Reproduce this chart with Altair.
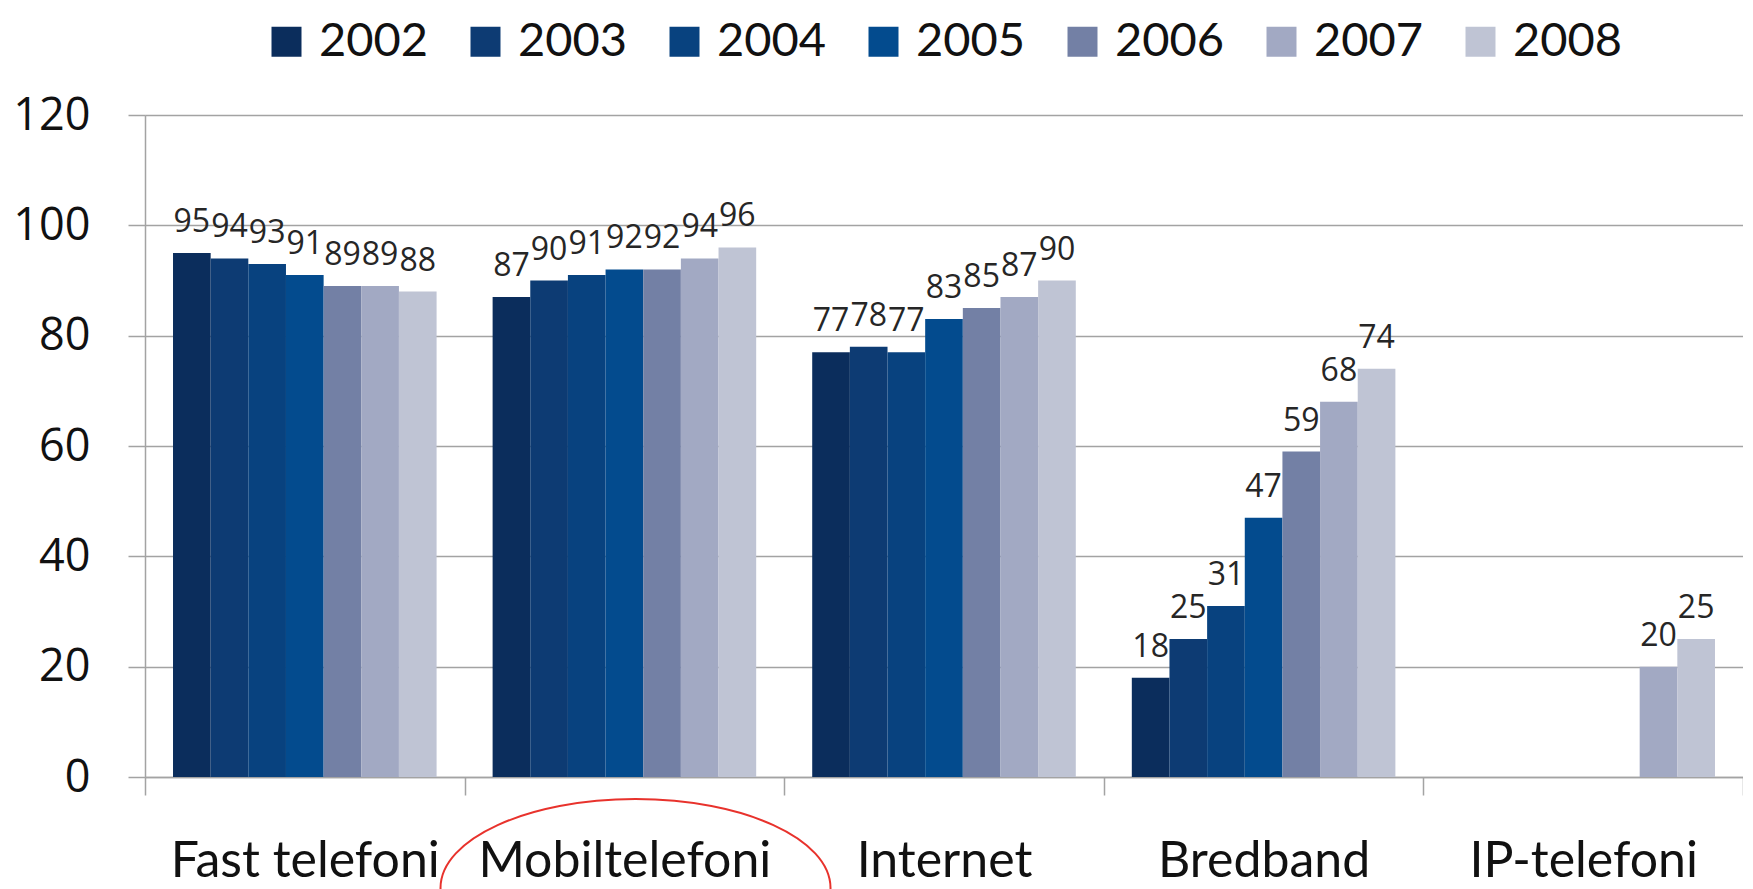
import altair as alt
import pandas as pd

categories = ["Fast telefoni", "Mobiltelefoni", "Internet", "Bredband", "IP-telefoni"]
years = ["2002", "2003", "2004", "2005", "2006", "2007", "2008"]
fast_telefoni = [95, 94, 93, 91, 89, 89, 88]
mobiltelefoni = [87, 90, 91, 92, 92, 94, 96]
internet = [77, 78, 77, 83, 85, 87, 90]
bredband = [18, 25, 31, 47, 59, 68, 74]
ip_telefoni = [None, None, None, None, None, 20, 25]
y_ticks = [0, 20, 40, 60, 80, 100, 120]
colors = ["#0b2d5c", "#0d3b73", "#08427f", "#034b8e", "#7380a5", "#a2a9c3", "#bfc4d4"]
highlight = ["Mobiltelefoni"]

rows = []
for cat, vals in zip(categories, [fast_telefoni, mobiltelefoni, internet, bredband, ip_telefoni]):
    for yr, v in zip(years, vals):
        if v is not None:
            rows.append({"cat": cat, "year": yr, "value": v})
df = pd.DataFrame(rows)

FONT = "Open Sans"
EDGE_FONT = "Lato"
GRID = "#a3a3a3"

x_enc = alt.X(
    "cat:N",
    sort=categories,
    scale=alt.Scale(domain=categories, paddingInner=0, paddingOuter=0),
    axis=alt.Axis(
        title=None, tickBand="extent", labelAngle=0, labelFontSize=50, labelFont=EDGE_FONT,
        labelColor="#111111", tickSize=18, tickColor=GRID, tickWidth=1.5,
        domainColor=GRID, domainWidth=1.5, labelPadding=81, labelBaseline="alphabetic",
        labelLimit=0, grid=False,
    ),
)
y_enc = alt.Y(
    "value:Q",
    scale=alt.Scale(domain=[0, 120]),
    axis=alt.Axis(
        title=None, values=y_ticks, labelFontSize=45, labelFont=FONT, labelColor="#111111",
        labelPadding=38, tickSize=17, tickColor=GRID, tickWidth=1.5, gridColor=GRID,
        gridWidth=1.5, domainColor=GRID, domainWidth=1.5,
    ),
)
xoff = alt.XOffset(
    "year:N", sort=years,
    scale=alt.Scale(domain=years, paddingInner=0, paddingOuter=0.744),
)

base = alt.Chart(df)

bars = base.mark_bar().encode(
    x=x_enc,
    xOffset=xoff,
    y=y_enc,
    color=alt.Color(
        "year:N",
        sort=years,
        scale=alt.Scale(domain=years, range=colors),
        legend=alt.Legend(
            title=None, orient="none", legendX=118, legendY=-97, direction="horizontal",
            symbolType="square", symbolSize=900, symbolStrokeWidth=0, labelFontSize=47,
            labelFont=EDGE_FONT, labelColor="#111111", labelOffset=9, columnPadding=33,
            padding=0,
        ),
    ),
)

labels = base.mark_text(
    dy=-21, baseline="alphabetic", fontSize=32, font=FONT, color="#262626"
).encode(
    x=alt.X("cat:N", sort=categories),
    xOffset=alt.XOffset("year:N", sort=years),
    y=alt.Y("value:Q"),
    text=alt.Text("value:Q"),
)

ellipse_path = "M-0.943,0 A1,0.456 0 1,1 1.057,0 A1,0.456 0 1,1 -0.943,0 Z"
ring = alt.Chart(pd.DataFrame({"cat": highlight})).mark_point(
    shape=ellipse_path, size=390 * 390, filled=False, stroke="#e8322c", strokeWidth=2,
    opacity=1,
).encode(
    x=alt.X("cat:N", sort=categories),
    y=alt.value(773),
)

chart = alt.layer(bars, labels, ring).properties(
    width=1598,
    height=662,
    padding={"left": 137, "top": 107, "right": 0, "bottom": 112},
    autosize=alt.AutoSizeParams(type="none"),
).configure_view(stroke=None).configure(background="white")

chart.save("out.html", embed_options={"renderer": "svg", "actions": False})
